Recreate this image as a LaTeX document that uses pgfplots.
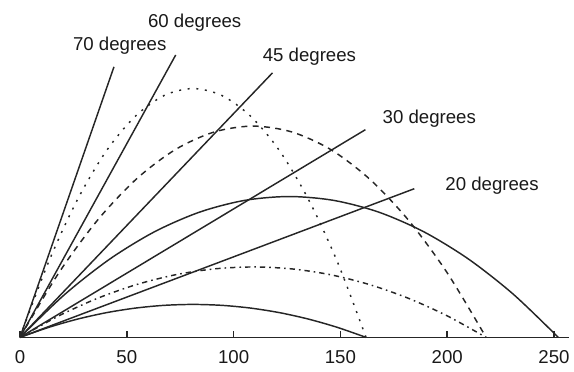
\documentclass[border=0pt]{standalone}
\usepackage{pgfplots}
\pgfplotsset{compat=1.18}
\usepackage{fontspec}
\setmainfont{Liberation Sans}
\begin{document}
\begin{tikzpicture}
\begin{axis}[
  scale only axis, width=412.5pt, height=253.5pt,
  xmin=0, xmax=257, ymin=0, ymax=150.9,
  axis x line*=bottom, axis y line=none,
  xtick={0,50,100,150,200,250}, ytick=\empty,
  tick align=inside, major tick length=5pt,
  clip=false,
  /pgf/number format/assume math mode=true,
  xticklabel style={font=\fontsize{14}{16}\selectfont, text=black!90, yshift=-6pt},
  axis line style={line width=1.1pt, black!85},
  every tick/.style={line width=1.1pt, black!85},
  every axis plot/.append style={line width=1.1pt},
]
% direction lines
\addplot[black!85, no marks] coordinates {(0,0) (44,121)};
\addplot[black!85, no marks] coordinates {(0,0) (72.9,126.3)};
\addplot[black!85, no marks] coordinates {(0,0) (118.2,118.3)};
\addplot[black!85, no marks] coordinates {(0,0) (161.7,92.9)};
\addplot[black!85, no marks] coordinates {(0,0) (184.6,66.5)};
% 70 degrees trajectory (dotted)
\addplot[black!85, no marks, smooth, dash pattern=on 1.5pt off 5pt] coordinates {
(0,0) (13.5,34.0) (27,61.8) (40.5,83.5) (54,98.9) (67.5,108.2) (81,111.3)
(94.5,108.2) (108,98.9) (121.5,83.5) (135,61.8) (148.5,34.0) (162,0)};
% 60 degrees trajectory (dashed)
\addplot[black!85, no marks, smooth, dash pattern=on 4.5pt off 4pt] coordinates {
(0,0) (18.18,28.87) (36.37,52.5) (54.55,70.87) (72.73,84.0) (90.92,91.87) (109.1,94.5)
(127.3,91.87) (145.5,84.0) (163.6,70.87) (181.8,52.5) (200,28.87) (218.2,0)};
% 45 degrees trajectory (solid)
\addplot[black!85, no marks, smooth] coordinates {
(0,0) (21,19.25) (42,35) (63,47.25) (84,56) (105,61.25) (126,63)
(147,61.25) (168,56) (189,47.25) (210,35) (231,19.25) (252,0)};
% 30 degrees trajectory (dash-dot)
\addplot[black!85, no marks, smooth, dash pattern=on 4pt off 3pt on 1.2pt off 3pt] coordinates {
(0,0) (18.18,9.62) (36.37,17.5) (54.55,23.62) (72.73,28.0) (90.92,30.63) (109.1,31.5)
(127.3,30.63) (145.5,28.0) (163.6,23.62) (181.8,17.5) (200,9.62) (218.2,0)};
% 20 degrees trajectory (solid)
\addplot[black!85, no marks, smooth] coordinates {
(0,0) (13.5,4.5) (27,8.19) (40.5,11.06) (54,13.1) (67.5,14.33) (81,14.74)
(94.5,14.33) (108,13.1) (121.5,11.06) (135,8.19) (148.5,4.5) (162,0)};
% labels
\begin{scope}[every node/.style={font=\fontsize{14}{16}\selectfont, text=black!90}]
\node at (axis cs:46.7,130.4) {70 degrees};
\node at (axis cs:81.8,140.6) {60 degrees};
\node at (axis cs:135.5,125.4) {45 degrees};
\node at (axis cs:191.6,97.8) {30 degrees};
\node at (axis cs:221,67.9) {20 degrees};
\end{scope}
\path (axis cs:-9.35,-15.2) rectangle (axis cs:258.9,150.9);
\end{axis}
\end{tikzpicture}
\end{document}
